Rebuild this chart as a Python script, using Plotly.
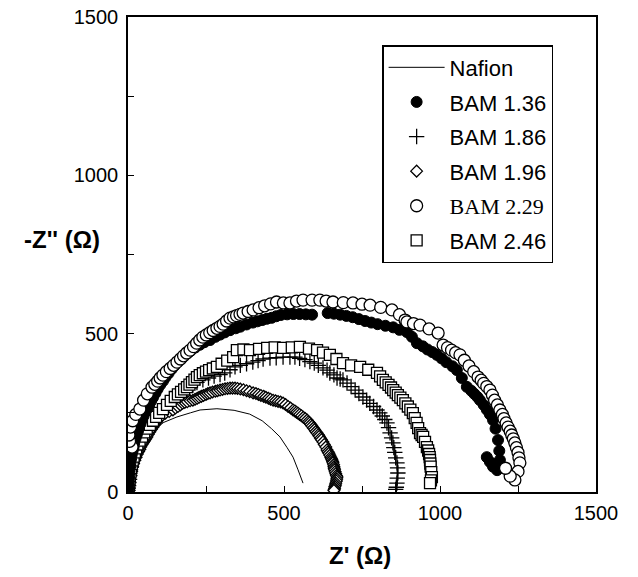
import plotly.graph_objects as go

# Nafion (solid line)
nafion_x = [10, 12, 16, 25, 38, 55, 80, 115, 157, 200, 231, 285, 340, 390, 430, 460, 487, 510, 529, 545, 555, 561]
nafion_y = [0, 40, 79, 110, 142, 170, 196, 220, 237, 250, 259, 263, 258, 246, 225, 200, 174, 140, 110, 70, 45, 28]

# BAM 1.36 (filled circles)
b136_x = [0, 1, 2, 3, 4, 5, 7, 8, 10, 12, 15, 18, 20, 24, 28, 32, 35, 40, 45, 50, 55, 62, 68, 74, 80, 88, 95, 103, 112, 120, 130, 140, 150, 162, 175, 188, 200, 215, 230, 245, 263, 280, 295, 310, 327, 345, 360, 380, 400, 415, 430, 445, 460, 475, 490, 510, 530, 550, 570, 590, 640, 660, 680, 700, 720, 740, 760, 780, 800, 825, 850, 870, 894, 910, 926, 945, 960, 975, 990, 1005, 1020, 1040, 1054, 1070, 1086, 1100, 1110, 1120, 1128, 1140, 1150, 1160, 1170, 1178, 1186, 1190, 1192, 1188, 1183, 1170, 1160, 1150]
b136_y = [5, 15, 28, 40, 52, 65, 80, 92, 105, 118, 130, 142, 155, 168, 180, 192, 203, 215, 228, 240, 252, 263, 275, 287, 298, 312, 325, 338, 350, 362, 375, 388, 400, 413, 425, 436, 445, 456, 465, 473, 480, 490, 497, 504, 511, 517, 522, 529, 535, 539, 543, 547, 550, 555, 559, 561, 562, 562, 561, 560, 565, 563, 560, 556, 552, 546, 540, 535, 530, 525, 520, 512, 505, 490, 470, 460, 450, 442, 433, 422, 410, 397, 385, 360, 332, 320, 310, 300, 290, 275, 260, 245, 227, 200, 164, 130, 101, 85, 69, 80, 95, 110]

# BAM 1.86 (plus)
b186_x = [0, 1, 2, 3, 5, 6, 8, 10, 13, 17, 21, 25, 31, 37, 43, 50, 57, 65, 72, 80, 90, 100, 110, 120, 132, 145, 158, 170, 183, 195, 208, 221, 240, 258, 276, 295, 310, 327, 343, 360, 380, 400, 417, 433, 455, 475, 497, 519, 535, 550, 567, 583, 597, 610, 625, 638, 647, 660, 670, 680, 689, 702, 715, 728, 740, 753, 765, 775, 787, 798, 807, 815, 823, 830, 835, 840, 845, 849, 852, 855, 858, 862, 864, 865, 863, 862, 860, 858]
b186_y = [5, 12, 20, 30, 40, 52, 65, 78, 90, 103, 115, 128, 140, 153, 165, 178, 190, 203, 215, 228, 240, 250, 260, 270, 280, 290, 300, 310, 320, 329, 338, 346, 354, 360, 366, 371, 376, 386, 395, 400, 405, 410, 415, 420, 423, 424, 426, 426, 426, 422, 418, 412, 407, 400, 392, 385, 376, 370, 360, 357, 354, 344, 333, 322, 311, 300, 290, 280, 270, 259, 250, 240, 229, 218, 203, 187, 171, 155, 140, 125, 108, 92, 76, 60, 44, 28, 15, 8]

# BAM 1.96 (diamonds)
b196_x = [0, 1, 2, 3, 5, 7, 10, 12, 15, 18, 22, 26, 30, 34, 38, 41, 45, 49, 53, 57, 61, 65, 70, 75, 80, 86, 92, 97, 103, 111, 120, 132, 144, 152, 160, 168, 175, 182, 190, 199, 208, 215, 222, 228, 235, 242, 250, 256, 263, 271, 280, 287, 295, 303, 311, 319, 327, 335, 343, 351, 360, 370, 380, 390, 401, 410, 418, 426, 435, 442, 450, 457, 465, 473, 481, 489, 497, 505, 513, 521, 529, 535, 540, 545, 550, 556, 562, 568, 574, 578, 582, 586, 590, 594, 598, 602, 606, 610, 613, 617, 620, 625, 629, 634, 638, 641, 644, 647, 650, 652, 654, 656, 657, 659, 660, 661, 662, 664, 666, 668, 670, 669, 668, 666, 665, 663, 662, 661, 660]
b196_y = [5, 12, 20, 30, 40, 50, 60, 70, 80, 90, 100, 110, 120, 128, 135, 143, 150, 156, 162, 168, 174, 182, 190, 198, 205, 213, 222, 230, 237, 243, 249, 254, 259, 265, 270, 275, 280, 283, 285, 288, 290, 293, 296, 299, 302, 305, 308, 311, 313, 316, 318, 320, 322, 324, 326, 327, 328, 328, 328, 327, 325, 323, 320, 317, 313, 311, 308, 305, 302, 299, 296, 293, 290, 288, 286, 284, 281, 276, 270, 265, 259, 256, 252, 249, 245, 241, 236, 232, 227, 222, 218, 213, 208, 202, 197, 191, 186, 181, 176, 170, 165, 158, 150, 142, 133, 127, 122, 116, 110, 105, 101, 96, 92, 86, 80, 75, 70, 64, 58, 52, 47, 41, 35, 28, 22, 17, 12, 8, 5]

# BAM 2.29 (open circles)
b229_x = [13, 5, 3, 8, 15, 25, 38, 50, 62, 77, 86, 95, 103, 112, 123, 135, 146, 157, 168, 178, 188, 199, 210, 220, 230, 240, 251, 262, 273, 285, 295, 305, 316, 327, 338, 348, 359, 369, 385, 401, 420, 438, 457, 476, 498, 519, 540, 561, 590, 615, 635, 657, 690, 721, 750, 776, 810, 846, 870, 888, 894, 915, 936, 965, 994, 1010, 1024, 1037, 1050, 1064, 1078, 1093, 1108, 1122, 1132, 1140, 1150, 1160, 1168, 1175, 1184, 1192, 1200, 1205, 1212, 1218, 1225, 1230, 1235, 1240, 1245, 1250, 1253, 1256, 1250, 1240, 1225, 1210]
b229_y = [142, 160, 180, 205, 225, 245, 262, 290, 310, 331, 340, 350, 360, 369, 380, 390, 400, 410, 420, 430, 439, 448, 459, 470, 480, 489, 496, 503, 510, 517, 523, 530, 540, 549, 553, 557, 561, 565, 570, 575, 582, 588, 594, 600, 597, 597, 603, 606, 606, 606, 603, 600, 598, 597, 593, 590, 583, 575, 560, 543, 537, 532, 527, 515, 502, 464, 456, 448, 440, 433, 416, 398, 380, 363, 353, 343, 333, 322, 306, 290, 275, 259, 245, 232, 218, 205, 192, 180, 168, 155, 140, 125, 108, 92, 65, 38, 50, 75]

# BAM 2.46 (squares)
b246_x = [2, 3, 4, 5, 6, 8, 10, 12, 15, 18, 22, 26, 30, 37, 45, 52, 60, 70, 80, 90, 100, 112, 125, 137, 150, 160, 170, 180, 189, 197, 205, 213, 221, 230, 240, 250, 260, 272, 285, 300, 318, 337, 349, 370, 391, 420, 446, 470, 497, 525, 551, 580, 606, 625, 647, 668, 689, 715, 744, 770, 798, 808, 817, 826, 835, 843, 850, 858, 865, 873, 881, 889, 897, 905, 913, 919, 925, 930, 936, 941, 946, 952, 958, 962, 965, 967, 968, 969, 970, 972, 974, 971, 968]
b246_y = [10, 20, 30, 40, 50, 62, 75, 88, 100, 112, 125, 138, 150, 162, 175, 188, 200, 212, 225, 237, 250, 262, 275, 288, 300, 308, 316, 324, 331, 339, 347, 355, 363, 369, 375, 380, 385, 390, 395, 405, 415, 426, 448, 450, 448, 452, 455, 457, 455, 457, 458, 453, 448, 440, 433, 420, 407, 400, 395, 386, 376, 365, 354, 346, 338, 330, 322, 314, 306, 298, 290, 280, 270, 260, 249, 233, 218, 202, 186, 180, 174, 158, 142, 131, 120, 110, 101, 90, 80, 63, 47, 37, 28]

FONT = "Arial, Liberation Sans, Helvetica, sans-serif"

fig = go.Figure()

fig.add_trace(go.Scatter(x=nafion_x, y=nafion_y, mode="lines", name="Nafion",
                         line=dict(color="black", width=1), legendgroup="a", legendrank=1))
fig.add_trace(go.Scatter(x=b186_x, y=b186_y, mode="markers", name="BAM 1.86",
                         marker=dict(symbol="cross-thin", size=11, line=dict(color="black", width=1.3)),
                         legendgroup="c", legendrank=3))
fig.add_trace(go.Scatter(x=b196_x, y=b196_y, mode="markers", name="BAM 1.96",
                         marker=dict(symbol="diamond", size=9, color="white", line=dict(color="black", width=1.3)),
                         legendgroup="d", legendrank=4))
fig.add_trace(go.Scatter(x=b246_x, y=b246_y, mode="markers", name="BAM 2.46",
                         marker=dict(symbol="square", size=11, color="white", line=dict(color="black", width=1.3)),
                         legendgroup="f", legendrank=6))
fig.add_trace(go.Scatter(x=b136_x, y=b136_y, mode="markers", name="BAM 1.36",
                         marker=dict(symbol="circle", size=11, color="black", line=dict(color="black", width=1)),
                         legendgroup="b", legendrank=2))
fig.add_trace(go.Scatter(x=b229_x, y=b229_y, mode="markers",
                         name='<span style="font-family:Liberation Serif, Times New Roman, serif">BAM 2.29</span>',
                         marker=dict(symbol="circle", size=12, color="white", line=dict(color="black", width=1.3)),
                         legendgroup="e", legendrank=5))

axis_common = dict(
    range=[0, 1500], showgrid=False, zeroline=False, automargin=False,
    showline=True, linecolor="black", linewidth=1.5, mirror=True,
    ticks="inside", ticklen=6, tickcolor="black", tickwidth=1,
    tickvals=[0, 500, 1000, 1500],
    minor=dict(tickvals=[250, 750, 1250], ticks="inside", ticklen=6, tickcolor="black"),
    tickfont=dict(family=FONT, size=20, color="black"),
)

fig.update_layout(
    width=638, height=577,
    margin=dict(l=128, r=42, t=17, b=85),
    paper_bgcolor="white", plot_bgcolor="white",
    xaxis=dict(axis_common, ticklabelstandoff=2),
    yaxis=dict(axis_common, ticklabelstandoff=4),
    showlegend=True,
    legend=dict(x=0.543, y=0.941, xanchor="left", yanchor="top",
                bordercolor="black", borderwidth=1.5, bgcolor="white",
                font=dict(family=FONT, size=22, color="black"),
                traceorder="grouped", tracegroupgap=3, itemwidth=56,
                entrywidth=198),
    annotations=[
        dict(text="<b>-Z'' (Ω)</b>", xref="paper", yref="paper",
             x=-0.141, y=0.531, xanchor="center", yanchor="middle", showarrow=False,
             font=dict(family=FONT, size=24, color="black")),
        dict(text="<b>Z' (Ω)</b>", xref="paper", yref="paper",
             x=0.496, y=-0.133, xanchor="center", yanchor="middle", showarrow=False,
             font=dict(family=FONT, size=24, color="black")),
    ],
)

fig.write_html("out.html", config={"displayModeBar": False},
               post_script="document.body.style.margin='0px';")
